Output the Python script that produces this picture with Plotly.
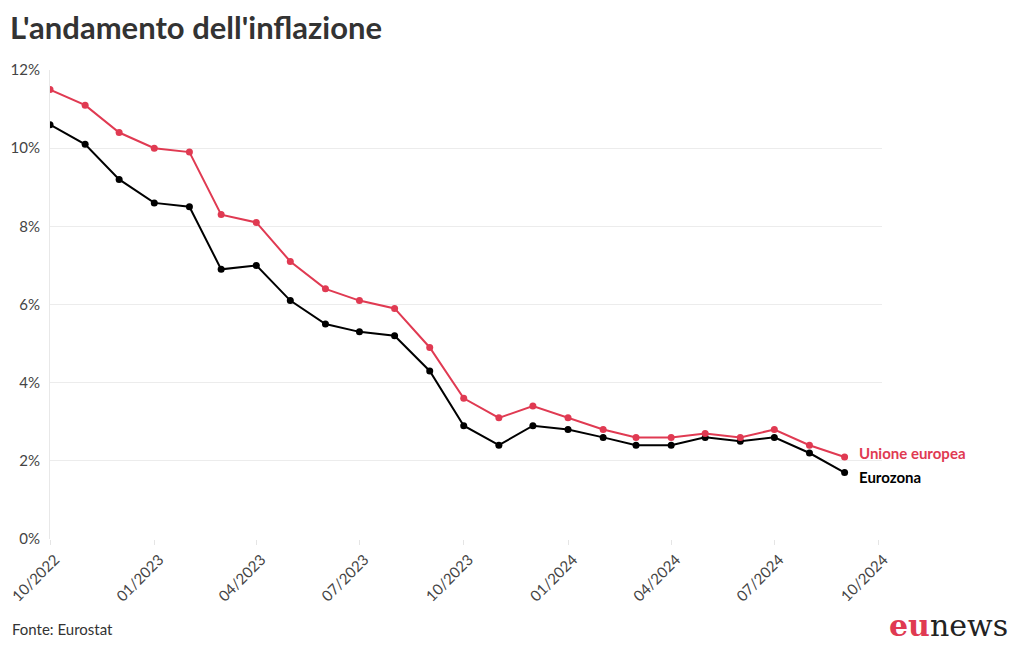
import plotly.graph_objects as go

months = ["2022-10-01","2022-11-01","2022-12-01","2023-01-01","2023-02-01","2023-03-01",
          "2023-04-01","2023-05-01","2023-06-01","2023-07-01","2023-08-01","2023-09-01",
          "2023-10-01","2023-11-01","2023-12-01","2024-01-01","2024-02-01","2024-03-01",
          "2024-04-01","2024-05-01","2024-06-01","2024-07-01","2024-08-01","2024-09-01"]
ue = [11.5, 11.1, 10.4, 10.0, 9.9, 8.3, 8.1, 7.1, 6.4, 6.1, 5.9, 4.9,
      3.6, 3.1, 3.4, 3.1, 2.8, 2.6, 2.6, 2.7, 2.6, 2.8, 2.4, 2.1]
ez = [10.6, 10.1, 9.2, 8.6, 8.5, 6.9, 7.0, 6.1, 5.5, 5.3, 5.2, 4.3,
      2.9, 2.4, 2.9, 2.8, 2.6, 2.4, 2.4, 2.6, 2.5, 2.6, 2.2, 1.7]
series_names = ["Unione europea", "Eurozona"]

RED = "#e03a52"
BLACK = "#000000"
FONT = "Lato"

W, H = 1004, 634
L, R, T, B = 42, 130, 62, 103
PW, PH = W - L - R, H - T - B

fig = go.Figure()
fig.add_trace(go.Scatter(x=months, y=ez, mode="lines+markers", name=series_names[1],
                         line=dict(color=BLACK, width=2), marker=dict(size=7, color=BLACK)))
fig.add_trace(go.Scatter(x=months, y=ue, mode="lines+markers", name=series_names[0],
                         line=dict(color=RED, width=2), marker=dict(size=7, color=RED)))

fig.update_layout(
    width=W, height=H,
    margin=dict(l=L, r=R, t=T, b=B, autoexpand=False),
    paper_bgcolor="white", plot_bgcolor="white",
    showlegend=False,
    font=dict(family=FONT, color="#444"),
    title=dict(text="<b>L'andamento dell'inflazione</b>", x=2 / W, xanchor="left",
               y=1 - 20 / H, yanchor="middle", font=dict(family=FONT, size=31, color="#333")),
)
fig.update_xaxes(type="date", range=["2022-10-01", "2024-10-04"], dtick="M3",
                 tick0="2022-10-01", tickformat="%m/%Y", tickangle=-45, automargin=False,
                 ticklabeloverflow="allow", ticklabelshift=5,
                 showgrid=False, showline=False, zeroline=False,
                 ticks="outside", ticklen=5, tickcolor="#e5e5e5",
                 tickfont=dict(size=15, color="#444"))
fig.update_yaxes(range=[0, 12], dtick=2, ticksuffix="%", showgrid=True, gridcolor="#ececec",
                 zeroline=False, showline=True, linecolor="#e8e8e8", automargin=False,
                 ticklabeloverflow="allow",
                 tickfont=dict(size=15, color="#444"), ticks="", ticklabelstandoff=6)

fig.add_annotation(x=months[-1], y=ue[-1], text="<b>Unione europea</b>", showarrow=False,
                   xanchor="left", yanchor="middle", xshift=12, yshift=4,
                   font=dict(size=15, color=RED, family=FONT))
fig.add_annotation(x=months[-1], y=ez[-1], text="<b>Eurozona</b>", showarrow=False,
                   xanchor="left", yanchor="middle", xshift=12, yshift=-4,
                   font=dict(size=15, color=BLACK, family=FONT))

fig.add_annotation(xref="paper", yref="paper", x=(2 - L) / PW, y=-90 / PH, text="Fonte: Eurostat",
                   showarrow=False, xanchor="left", yanchor="middle",
                   font=dict(size=15, color="#333", family=FONT))
fig.add_annotation(xref="paper", yref="paper", x=(1002 - L) / PW, y=-86 / PH,
                   text="<b><span style='color:#e03a52'>eu</span></b><span style='color:#222'>news</span>",
                   showarrow=False, xanchor="right", yanchor="middle",
                   font=dict(size=30, family="DejaVu Serif"))

fig.write_html("out.html")
